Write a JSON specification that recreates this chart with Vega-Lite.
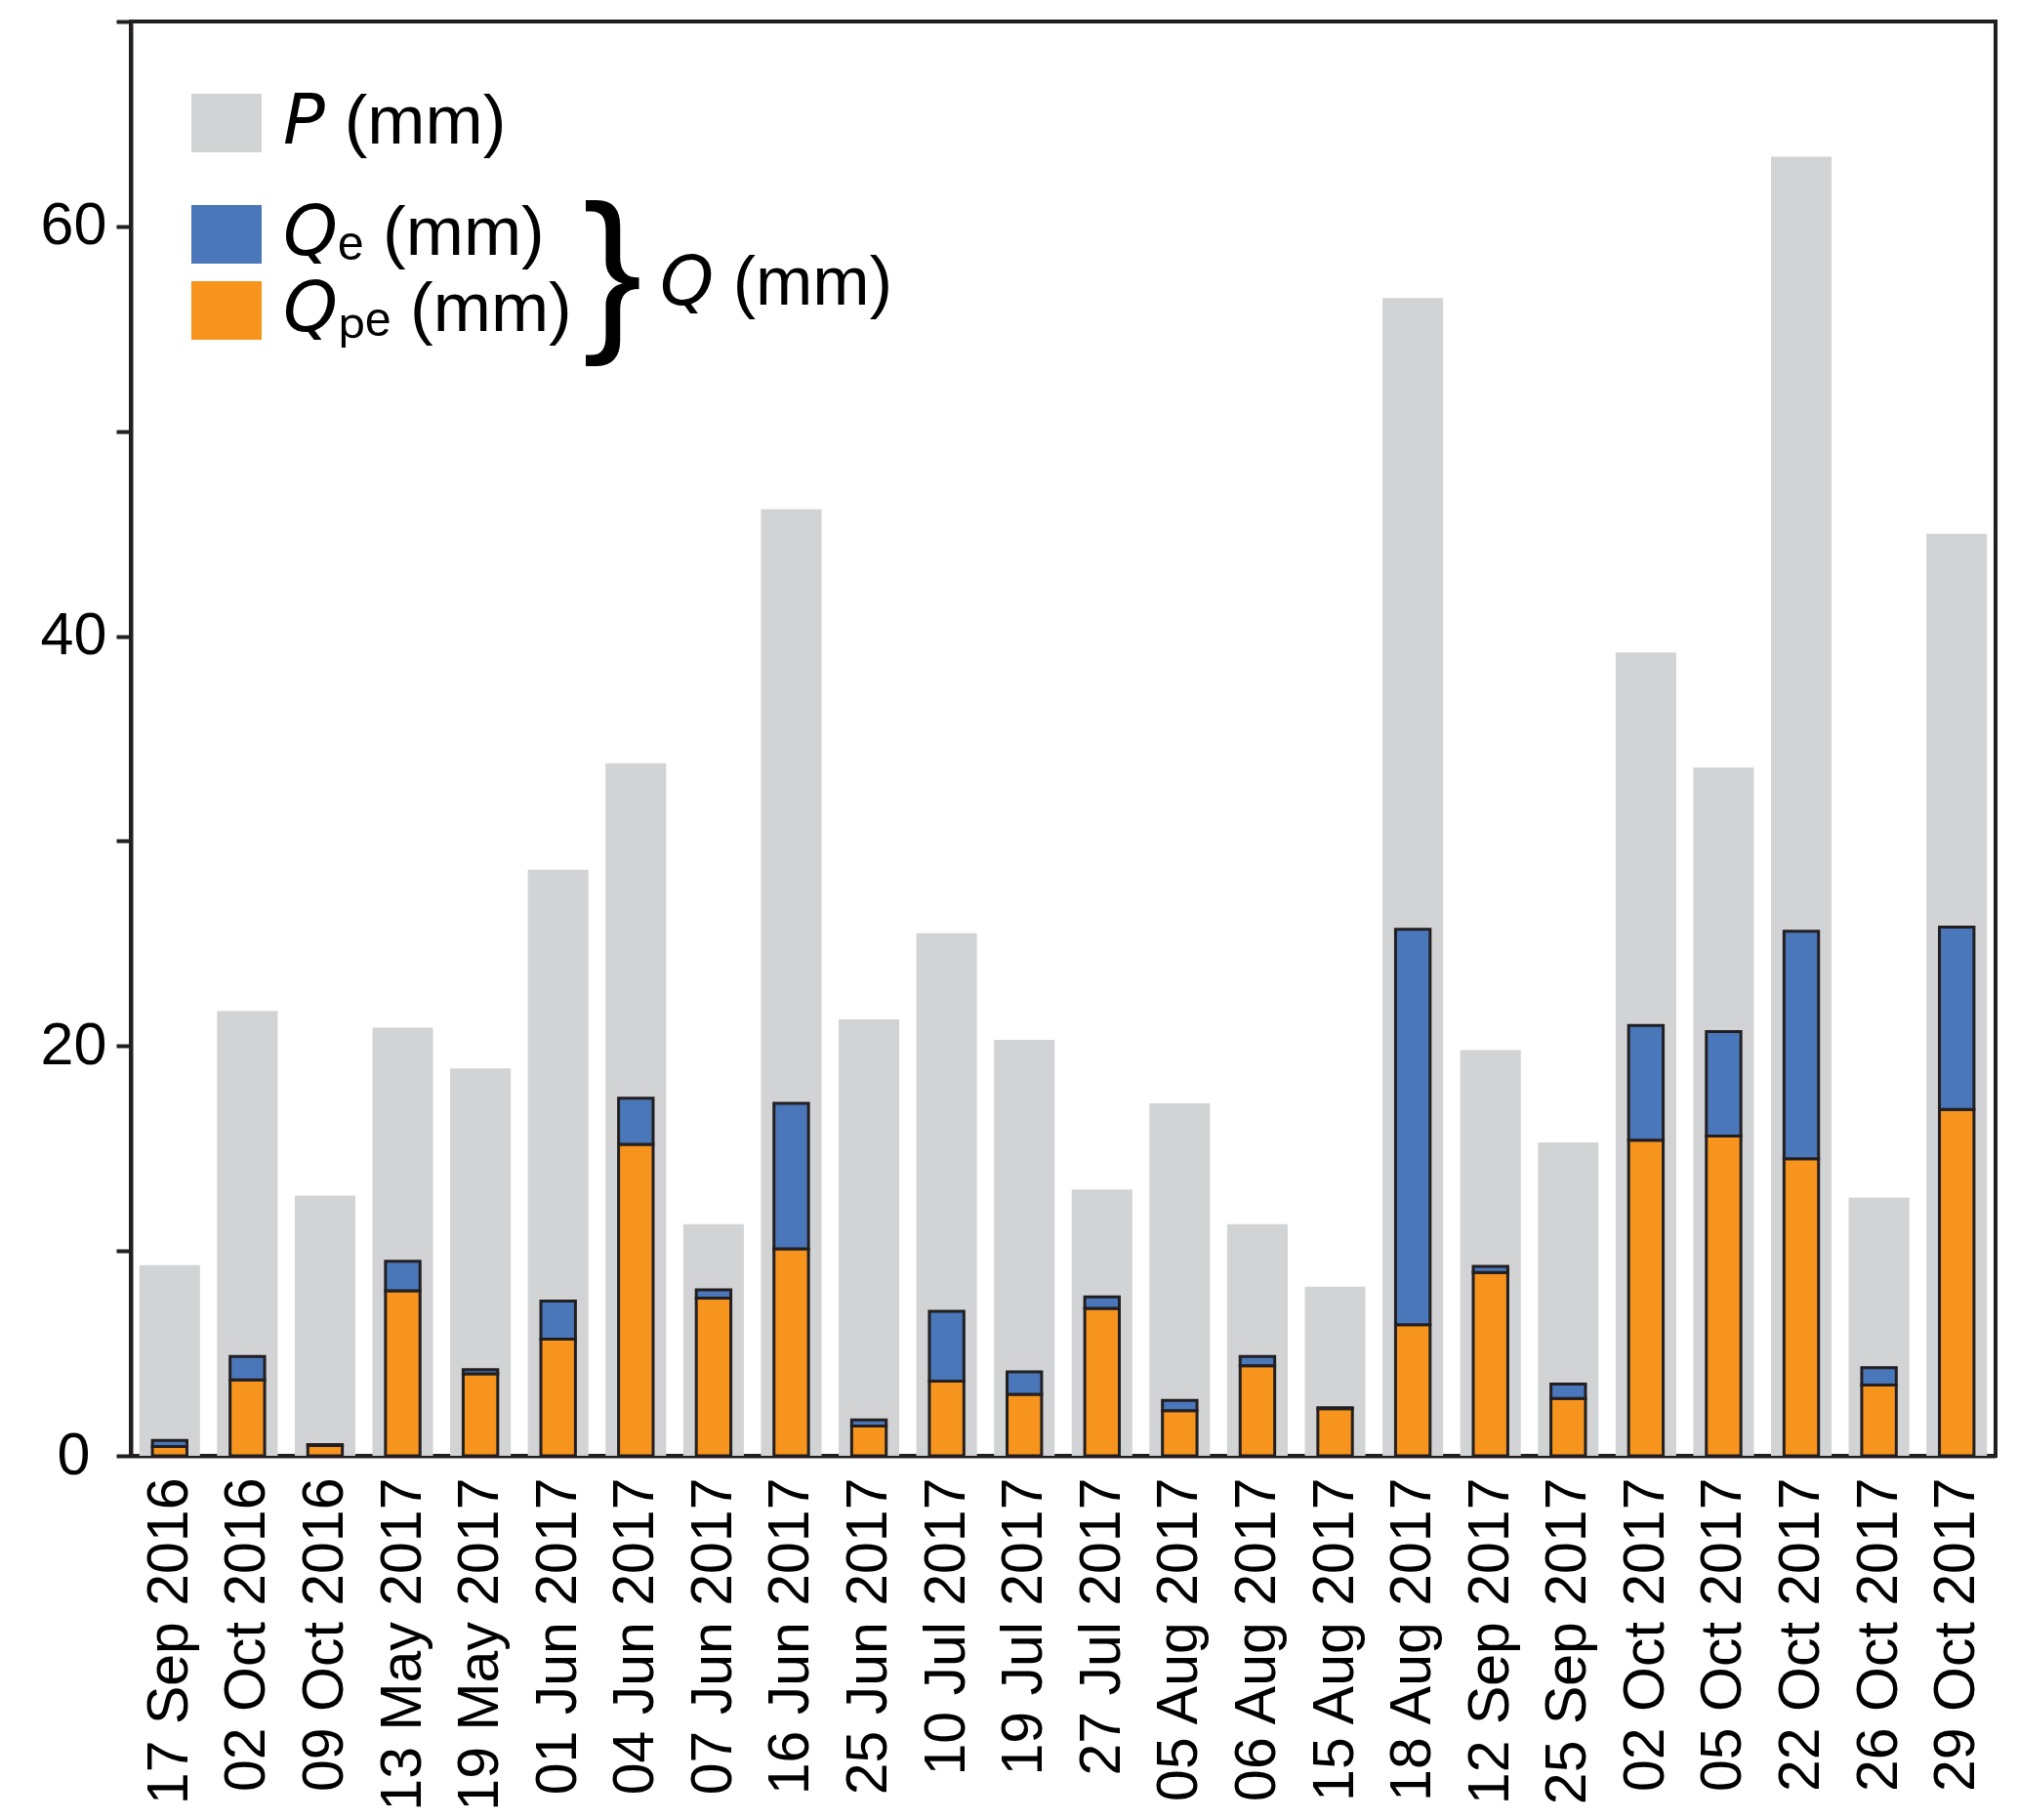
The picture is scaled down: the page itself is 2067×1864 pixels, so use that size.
{
  "$schema": "https://vega.github.io/schema/vega-lite/v6.json",
  "width": 1910,
  "height": 1469,
  "autosize": {"type": "none"},
  "padding": {"left": 134, "top": 22, "right": 23, "bottom": 373},
  "background": "white",
  "config": {
    "view": {"stroke": "#231f20", "strokeWidth": 4},
    "font": "Liberation Sans"
  },
  "data": {
    "values": [
      {"date": "17 Sep 2016", "P": 9.3, "Qpe": 0.45, "Qe": 0.3},
      {"date": "02 Oct 2016", "P": 21.7, "Qpe": 3.7, "Qe": 1.15},
      {"date": "09 Oct 2016", "P": 12.7, "Qpe": 0.5, "Qe": 0.05},
      {"date": "13 May 2017", "P": 20.9, "Qpe": 8.05, "Qe": 1.45},
      {"date": "19 May 2017", "P": 18.9, "Qpe": 4.0, "Qe": 0.2},
      {"date": "01 Jun 2017", "P": 28.6, "Qpe": 5.7, "Qe": 1.85},
      {"date": "04 Jun 2017", "P": 33.8, "Qpe": 15.2, "Qe": 2.25},
      {"date": "07 Jun 2017", "P": 11.3, "Qpe": 7.7, "Qe": 0.4},
      {"date": "16 Jun 2017", "P": 46.2, "Qpe": 10.1, "Qe": 7.1},
      {"date": "25 Jun 2017", "P": 21.3, "Qpe": 1.45, "Qe": 0.3},
      {"date": "10 Jul 2017", "P": 25.5, "Qpe": 3.65, "Qe": 3.4},
      {"date": "19 Jul 2017", "P": 20.3, "Qpe": 3.0, "Qe": 1.1},
      {"date": "27 Jul 2017", "P": 13.0, "Qpe": 7.2, "Qe": 0.55},
      {"date": "05 Aug 2017", "P": 17.2, "Qpe": 2.2, "Qe": 0.5},
      {"date": "06 Aug 2017", "P": 11.3, "Qpe": 4.4, "Qe": 0.45},
      {"date": "15 Aug 2017", "P": 8.25, "Qpe": 2.3, "Qe": 0.05},
      {"date": "18 Aug 2017", "P": 56.5, "Qpe": 6.4, "Qe": 19.3},
      {"date": "12 Sep 2017", "P": 19.8, "Qpe": 8.95, "Qe": 0.3},
      {"date": "25 Sep 2017", "P": 15.3, "Qpe": 2.8, "Qe": 0.7},
      {"date": "02 Oct 2017", "P": 39.2, "Qpe": 15.4, "Qe": 5.6},
      {"date": "05 Oct 2017", "P": 33.6, "Qpe": 15.6, "Qe": 5.1},
      {"date": "22 Oct 2017", "P": 63.4, "Qpe": 14.5, "Qe": 11.1},
      {"date": "26 Oct 2017", "P": 12.6, "Qpe": 3.45, "Qe": 0.85},
      {"date": "29 Oct 2017", "P": 45.0, "Qpe": 16.9, "Qe": 8.9}
    ]
  },
  "encoding": {
    "x": {
      "field": "date",
      "type": "nominal",
      "scale": {
        "domain": ["17 Sep 2016", "02 Oct 2016", "09 Oct 2016", "13 May 2017", "19 May 2017", "01 Jun 2017", "04 Jun 2017", "07 Jun 2017", "16 Jun 2017", "25 Jun 2017", "10 Jul 2017", "19 Jul 2017", "27 Jul 2017", "05 Aug 2017", "06 Aug 2017", "15 Aug 2017", "18 Aug 2017", "12 Sep 2017", "25 Sep 2017", "02 Oct 2017", "05 Oct 2017", "22 Oct 2017", "26 Oct 2017", "29 Oct 2017"],
        "paddingInner": 0.22,
        "paddingOuter": 0.11
      },
      "axis": {
        "title": null,
        "labelAngle": -90,
        "labelAlign": "right",
        "labelBaseline": "middle",
        "ticks": false,
        "labelPadding": 22,
        "labelLimit": 0,
        "domainWidth": 4,
        "domainColor": "#231f20",
        "labelFontSize": 59,
        "labelColor": "#000000",
        "labelFont": "Liberation Sans"
      }
    }
  },
  "layer": [
    {
      "transform": [{"fold": ["P"], "as": ["key", "val"]}],
      "mark": {"type": "bar"},
      "encoding": {
        "y": {
          "field": "val",
          "type": "quantitative",
          "scale": {"domain": [0, 70]},
          "axis": {
            "title": null,
            "values": [0, 10, 20, 30, 40, 50, 60, 70],
            "labelExpr": "datum.value % 20 === 0 ? datum.label : ''",
            "tickSize": 15,
            "tickWidth": 4,
            "tickColor": "#231f20",
            "domainColor": "#231f20",
            "domainWidth": 4,
            "labelFontSize": 61,
            "labelAlign": "center",
            "labelPadding": 44,
            "labelColor": "#000000",
            "labelFont": "Liberation Sans",
            "grid": false
          }
        },
        "fill": {
          "field": "key",
          "type": "nominal",
          "scale": {"domain": ["P"], "range": ["#D1D3D4"]},
          "legend": {
            "orient": "none",
            "legendX": 62,
            "legendY": 68,
            "title": null,
            "padding": 0,
            "labelExpr": "'𝘗 (mm)'",
            "labelLimit": 0,
            "symbolType": "M-1,-0.833H1V0.833H-1Z",
            "symbolSize": 5184,
            "symbolStrokeWidth": 0,
            "labelFontSize": 71,
            "labelFont": "Liberation Sans",
            "labelColor": "#000000",
            "labelOffset": 22
          }
        }
      }
    },
    {
      "transform": [{"fold": ["Qpe", "Qe"], "as": ["key", "val"]}],
      "mark": {"type": "bar", "stroke": "#231f20", "strokeWidth": 3, "width": {"band": 0.57}},
      "encoding": {
        "y": {"field": "val", "type": "quantitative", "stack": "zero", "scale": {"domain": [0, 70]}, "title": null},
        "order": {"field": "key", "sort": "descending"},
        "color": {
          "field": "key",
          "type": "nominal",
          "scale": {"domain": ["Qe", "Qpe"], "range": ["#4A76BA", "#F7941D"]},
          "legend": {
            "orient": "none",
            "legendX": 62,
            "legendY": 182,
            "title": null,
            "padding": 0,
            "rowPadding": 7,
            "labelExpr": "datum.label === 'Qe' ? '𝘘ₑ (mm)' : '𝘘ₚₑ (mm)'",
            "labelLimit": 0,
            "symbolType": "M-1,-0.833H1V0.833H-1Z",
            "symbolSize": 5184,
            "symbolStrokeWidth": 0,
            "labelFontSize": 71,
            "labelFont": "Liberation Sans",
            "labelColor": "#000000",
            "labelOffset": 22
          }
        }
      }
    },
    {
      "data": {"values": [{"t": "}"}]},
      "mark": {"type": "text", "fontSize": 182, "font": "Liberation Sans Narrow, Liberation Sans", "align": "center", "baseline": "alphabetic", "dx": -24, "color": "#000000"},
      "encoding": {
        "x": {"datum": "04 Jun 2017"},
        "y": {"datum": 55.0, "type": "quantitative"},
        "text": {"field": "t"}
      }
    },
    {
      "data": {"values": [{"t": "𝘘 (mm)"}]},
      "mark": {"type": "text", "fontSize": 70, "font": "Liberation Sans", "align": "left", "baseline": "alphabetic", "dx": 25, "color": "#000000"},
      "encoding": {
        "x": {"datum": "04 Jun 2017"},
        "y": {"datum": 56.17, "type": "quantitative"},
        "text": {"field": "t"}
      }
    }
  ]
}
